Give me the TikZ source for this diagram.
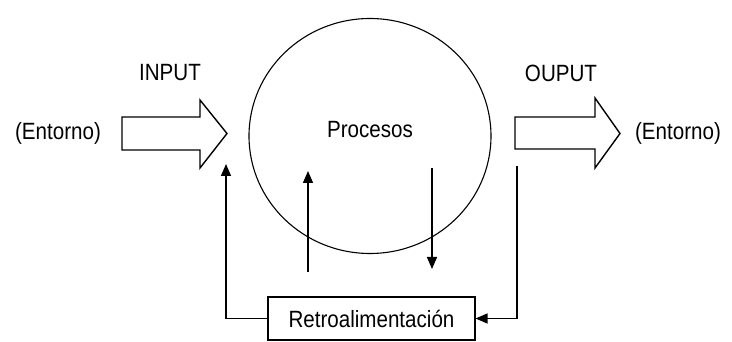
\documentclass[tikz,border=0pt]{standalone}
\usepackage{fontspec}
\setmainfont{Liberation Sans}
\usetikzlibrary{arrows.meta,shapes.geometric}
\begin{document}
\begin{tikzpicture}[x=1pt,y=-1pt,
  txt/.style={font=\fontsize{21}{24}\selectfont,yscale=1.12,xscale=0.98,transform shape},
  lbl/.style={inner sep=0pt,txt},
  blockarrow/.style={draw,line width=1.4pt,fill=white,line join=miter},
  procshape/.style={draw,ellipse,line width=1.1pt,minimum width=242pt,minimum height=235pt,inner sep=0pt},
  fbbox/.style={draw,line width=1.1pt,minimum width=207pt,minimum height=43pt,inner sep=0pt},
  flow/.style={line width=1.4pt,-{Triangle[length=12pt,width=10pt]}}]
\useasboundingbox (0,0) rectangle (732,342);

% process circle
\node[procshape] (proc) at (370,136) {};
\node[lbl] (proclbl) at (370,130) {Procesos};

% labels
\node[lbl] (envL) at (58,133) {(Entorno)};
\node[lbl] (envR) at (678,133) {(Entorno)};
\node[lbl] (inlbl) at (170,73) {INPUT};
\node[lbl] (outlbl) at (561,73) {OUPUT};

% input block arrow
\draw[blockarrow] (122,117) -- (200,117) -- (200,100) -- (227,133.5) -- (200,168) -- (200,150) -- (122,150) -- cycle;
% output block arrow
\draw[blockarrow] (515,117) -- (595,117) -- (595,98) -- (620,133.5) -- (595,168) -- (595,149) -- (515,149) -- cycle;

% feedback box
\node[fbbox] (fb) at (371.5,318.5) {};
\node[lbl] (fblbl) at (fb.center) {Retroalimentación};

% feedback loop
\coordinate (inFb) at (226,164);
\coordinate (outFb) at (517,166);
\draw[flow] (fb.west) -| (inFb);
\draw[flow] (outFb) |- (fb.east);

% arrows inside the process
\coordinate (upS) at (308,272);
\coordinate (upE) at (308,171);
\coordinate (dnS) at (432,168);
\coordinate (dnE) at (432,269);
\draw[flow] (upS) -- (upE);
\draw[flow] (dnS) -- (dnE);
\end{tikzpicture}
\end{document}
